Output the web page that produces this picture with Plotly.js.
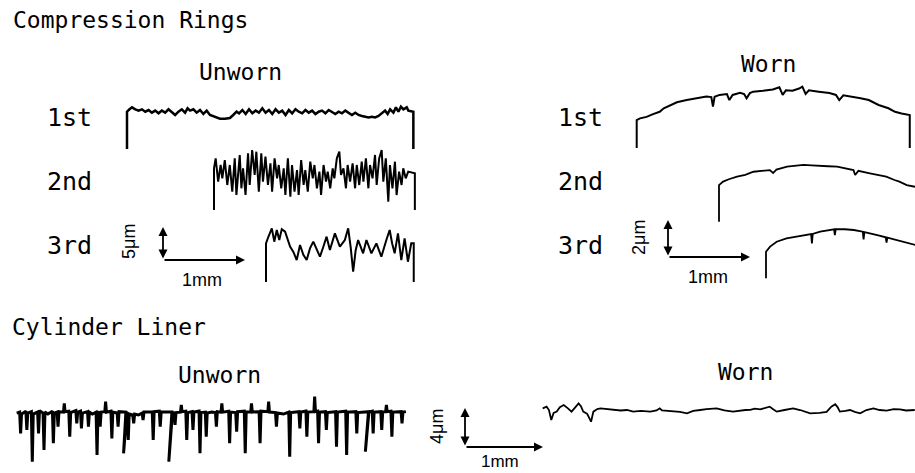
<!DOCTYPE html>
<html><head><meta charset="utf-8">
<script src="https://cdn.plot.ly/plotly-3.0.1.min.js"></script>
<style>html,body{margin:0;padding:0;background:#fff}#chart{width:915px;height:473px}</style>
</head><body><div id="chart"></div>
<script>
// ---- Profile data: [distance along surface (mm), height (µm)] ----
const ringUnworn1st = [[0,0],[0,5.33],[0.03,5.67],[0.06,5.95],[0.10,5.67],[0.14,5.48],[0.18,5.67],[0.22,5.33],[0.26,5.57],[0.30,5.19],[0.34,5.48],[0.38,5.10],[0.42,5.48],[0.46,5.19],[0.50,5.67],[0.54,5.33],[0.58,4.86],[0.62,5.33],[0.66,5.67],[0.70,5.19],[0.73,5.81],[0.76,5.48],[0.80,5.67],[0.84,5.19],[0.88,5.57],[0.92,5.00],[0.96,5.48],[1.00,4.86],[1.06,4.62],[1.12,4.33],[1.18,4.33],[1.24,4.43],[1.28,4.86],[1.32,5.33],[1.35,5.10],[1.39,5.57],[1.43,5.00],[1.47,5.67],[1.51,5.10],[1.55,5.48],[1.59,5.19],[1.63,5.81],[1.67,5.19],[1.71,5.57],[1.75,5.00],[1.79,5.67],[1.83,5.19],[1.87,5.48],[1.91,4.86],[1.95,5.57],[1.99,5.10],[2.03,5.67],[2.07,5.33],[2.11,5.10],[2.15,5.57],[2.19,5.19],[2.23,5.48],[2.27,5.00],[2.31,5.33],[2.35,5.48],[2.39,5.10],[2.43,5.57],[2.47,5.29],[2.51,5.00],[2.55,5.33],[2.59,5.10],[2.63,5.48],[2.67,5.19],[2.71,4.86],[2.75,5.19],[2.79,4.86],[2.83,4.71],[2.87,4.62],[2.91,4.52],[2.95,4.62],[2.99,4.52],[3.03,4.71],[3.07,5.10],[3.11,5.48],[3.14,5.00],[3.17,5.67],[3.21,5.19],[3.24,5.95],[3.27,5.33],[3.30,6.05],[3.33,5.67],[3.37,5.95],[3.39,5.48],[3.43,5.33],[3.45,5.33],[3.45,0]];

const ringUnworn2nd = [[0,0],[0,5.95],[0.02,7.38],[0.05,4.05],[0.08,6.43],[0.10,4.52],[0.13,7.14],[0.16,3.57],[0.19,6.43],[0.22,2.62],[0.25,7.38],[0.27,2.14],[0.31,7.86],[0.33,3.10],[0.35,5.95],[0.38,2.14],[0.41,8.10],[0.43,3.57],[0.46,8.57],[0.49,5.00],[0.51,8.33],[0.54,2.62],[0.57,8.10],[0.59,4.05],[0.62,7.62],[0.65,3.57],[0.68,6.67],[0.70,2.62],[0.73,7.38],[0.76,4.52],[0.78,6.43],[0.81,3.10],[0.84,5.95],[0.86,2.14],[0.89,7.38],[0.92,1.90],[0.94,6.43],[0.97,2.62],[1.00,5.71],[1.02,2.14],[1.05,7.14],[1.08,3.57],[1.10,5.71],[1.13,2.62],[1.16,6.90],[1.19,4.52],[1.21,6.43],[1.24,3.10],[1.27,5.48],[1.29,2.14],[1.32,6.43],[1.35,4.05],[1.37,5.48],[1.40,3.10],[1.43,5.95],[1.45,4.52],[1.48,7.38],[1.51,8.33],[1.53,5.00],[1.56,5.95],[1.59,3.10],[1.61,6.43],[1.64,4.05],[1.67,6.67],[1.70,3.10],[1.72,6.43],[1.75,3.57],[1.78,6.90],[1.80,4.05],[1.83,7.38],[1.86,3.10],[1.88,6.43],[1.91,4.52],[1.94,7.86],[1.96,3.57],[1.99,7.38],[2.02,8.57],[2.04,4.05],[2.07,7.38],[2.10,1.19],[2.12,6.43],[2.15,3.10],[2.18,6.90],[2.20,2.14],[2.23,5.48],[2.26,3.57],[2.28,5.95],[2.31,4.52],[2.34,5.48],[2.37,5.38],[2.40,5.24],[2.42,5.24],[2.42,0]];

const ringUnworn3rd = [[0,0],[0,5.52],[0.03,6.50],[0.07,7.67],[0.10,5.76],[0.13,7.43],[0.16,6.00],[0.19,7.55],[0.23,7.19],[0.29,5.05],[0.33,4.30],[0.37,3.14],[0.41,5.29],[0.45,3.90],[0.49,3.14],[0.53,4.80],[0.57,5.76],[0.61,4.60],[0.65,3.62],[0.69,5.00],[0.73,6.48],[0.77,4.57],[0.83,6.95],[0.89,5.05],[0.95,6.00],[0.99,7.67],[1.02,5.00],[1.05,1.48],[1.08,4.50],[1.11,6.00],[1.17,4.10],[1.21,6.00],[1.27,4.10],[1.33,5.52],[1.39,3.62],[1.45,6.00],[1.49,7.43],[1.52,5.50],[1.55,4.10],[1.59,6.95],[1.63,3.14],[1.67,6.24],[1.71,2.90],[1.75,5.52],[1.78,5.52],[1.78,0]];

const ringWorn1st = [[0,0],[0,1.53],[0.04,1.62],[0.12,1.70],[0.20,1.85],[0.28,1.98],[0.33,2.17],[0.41,2.35],[0.49,2.50],[0.61,2.62],[0.73,2.72],[0.85,2.81],[0.91,2.78],[0.93,2.26],[0.95,2.80],[1.01,2.90],[1.10,2.95],[1.13,2.62],[1.17,2.90],[1.26,3.02],[1.31,2.95],[1.34,2.72],[1.38,3.00],[1.42,3.08],[1.54,3.13],[1.66,3.20],[1.74,3.32],[1.78,2.90],[1.82,3.15],[1.90,3.13],[1.98,3.25],[2.02,3.35],[2.06,2.95],[2.10,3.15],[2.22,3.08],[2.35,3.00],[2.43,2.90],[2.47,2.62],[2.52,2.88],[2.63,2.81],[2.73,2.72],[2.83,2.62],[2.95,2.35],[3.07,2.17],[3.15,1.98],[3.23,1.89],[3.31,1.80],[3.33,1.80],[3.33,0]];

const ringWorn2nd = [[0,0],[0,2.00],[0.05,2.19],[0.12,2.32],[0.22,2.46],[0.32,2.56],[0.42,2.73],[0.52,2.76],[0.62,2.82],[0.66,2.66],[0.70,2.85],[0.83,3.01],[0.93,3.05],[1.03,3.10],[1.13,3.08],[1.23,3.04],[1.33,3.03],[1.44,3.01],[1.54,2.90],[1.64,2.82],[1.66,2.55],[1.70,2.78],[1.84,2.64],[1.94,2.55],[2.04,2.46],[2.14,2.28],[2.20,2.19],[2.29,2.00],[2.39,1.91]];

const ringWorn3rd = [[0,0],[0,1.45],[0.05,1.73],[0.13,2.00],[0.25,2.18],[0.36,2.28],[0.46,2.36],[0.55,2.42],[0.56,1.91],[0.57,2.42],[0.66,2.55],[0.76,2.62],[0.83,2.68],[0.84,2.36],[0.85,2.68],[0.96,2.68],[1.07,2.64],[1.18,2.55],[1.19,2.13],[1.20,2.52],[1.27,2.46],[1.37,2.35],[1.46,2.24],[1.47,1.95],[1.48,2.22],[1.57,2.12],[1.67,2.00],[1.75,1.90],[1.82,1.82]];

const linerUnworn = [[0,0.2],
[0.038,0.3],[0.05,-1.91],[0.062,0.1],[0.118,0.4],[0.13,-1.56],[0.142,0.2],[0.188,0.35],[0.20,-4.86],[0.212,0.1],
[0.268,0.3],[0.28,-1.91],[0.292,0.45],[0.338,0.2],[0.35,-3.65],[0.362,0.3],[0.40,0.1],[0.458,0.4],[0.47,-2.95],[0.482,0.2],
[0.518,0.3],[0.53,-1.22],[0.542,0.35],[0.60,0.3],[0.61,1.22],[0.62,0.35],[0.668,0.4],[0.68,-2.26],[0.692,0.25],
[0.758,0.45],[0.77,-0.87],[0.782,0.3],[0.818,0.4],[0.83,-1.39],[0.842,0.2],[0.908,0.35],[0.92,-1.22],[0.932,0.3],[0.97,0.1],
[1.018,0.3],[1.03,-4.17],[1.042,0.2],[1.058,0.35],[1.07,-1.22],[1.082,0.3],[1.13,0.35],[1.14,1.39],[1.15,0.3],
[1.208,0.4],[1.22,-2.43],[1.232,0.3],[1.288,0.2],[1.30,-1.22],[1.312,0.35],[1.40,0.3],[1.37,-3.99],[1.41,0.2],
[1.418,0.3],[1.43,-2.6],[1.442,0.1],[1.488,0.0],[1.50,-0.87],[1.512,0.1],[1.56,0.0],[1.608,0.2],[1.62,-0.52],[1.632,0.3],
[1.738,0.3],[1.75,-2.6],[1.762,0.35],[1.828,0.4],[1.84,-1.22],[1.852,0.3],[1.99,0.3],[1.95,-4.86],[1.995,0.1],
[2.018,0.3],[2.03,-1.04],[2.042,0.25],[2.10,0.3],[2.11,1.04],[2.12,0.35],[2.168,0.4],[2.18,-2.6],[2.192,0.25],
[2.248,0.35],[2.26,-1.56],[2.272,0.3],[2.338,0.4],[2.35,-3.99],[2.362,0.25],[2.418,0.3],[2.43,-2.26],[2.442,0.2],[2.50,0.3],
[2.548,0.25],[2.56,-1.22],[2.572,0.35],[2.62,0.3],[2.63,1.22],[2.64,0.3],[2.718,0.4],[2.73,-2.95],[2.742,0.3],
[2.808,0.25],[2.82,-1.74],[2.832,0.35],[2.918,0.4],[2.93,-3.99],[2.942,0.3],[3.00,0.3],[3.01,1.22],[3.02,0.3],
[3.108,0.35],[3.12,-2.95],[3.132,0.4],[3.22,0.35],[3.23,1.39],[3.24,0.3],[3.318,0.25],[3.33,-1.22],[3.342,0.2],[3.42,0.1],
[3.488,0.3],[3.50,-4.34],[3.512,0.25],[3.618,0.35],[3.63,-1.39],[3.642,0.3],[3.708,0.4],[3.72,-2.26],[3.732,0.3],
[3.81,0.35],[3.82,1.91],[3.83,0.35],[3.858,0.4],[3.87,-2.95],[3.882,0.3],[3.958,0.35],[3.97,-1.56],[3.982,0.25],
[4.088,0.35],[4.10,-3.3],[4.112,0.3],[4.218,0.4],[4.23,-4.17],[4.242,0.3],[4.348,0.35],[4.36,-1.91],[4.372,0.25],
[4.51,0.35],[4.47,-3.82],[4.515,0.3],[4.558,0.4],[4.57,-1.91],[4.582,0.3],[4.668,0.35],[4.68,-1.56],[4.692,0.3],
[4.73,0.35],[4.74,1.04],[4.75,0.35],[4.798,0.4],[4.81,-2.26],[4.822,0.3],[4.928,0.35],[4.94,-0.87],[4.952,0.3],[4.99,0.35]];

const linerWorn = [[0,0.17],[0.05,0.35],[0.08,0.0],[0.11,-1.04],[0.14,-0.3],[0.18,-0.17],[0.22,0.3],[0.27,0.52],[0.32,0.2],[0.37,-0.17],[0.42,0.3],[0.46,0.69],[0.49,0.4],[0.52,-0.17],[0.57,-0.4],[0.62,-1.22],[0.65,-0.17],[0.70,0.1],[0.74,0.17],[0.82,0.1],[0.91,0.07],[1.0,-0.05],[1.08,0.0],[1.16,-0.17],[1.26,-0.1],[1.38,-0.17],[1.46,-0.05],[1.50,0.17],[1.53,-0.05],[1.60,-0.1],[1.68,-0.17],[1.76,-0.2],[1.85,-0.35],[1.93,-0.1],[2.02,0.0],[2.10,0.1],[2.23,0.17],[2.33,-0.05],[2.44,-0.17],[2.53,-0.05],[2.60,0.0],[2.66,0.02],[2.72,0.15],[2.79,0.07],[2.85,0.25],[2.91,0.35],[2.95,0.1],[3.0,-0.17],[3.1,0.0],[3.21,0.17],[3.30,0.0],[3.38,-0.25],[3.43,-0.35],[3.55,-0.3],[3.64,-0.2],[3.70,0.35],[3.75,0.6],[3.78,0.3],[3.81,-0.17],[3.88,-0.1],[3.94,0.0],[4.0,-0.2],[4.07,-0.35],[4.15,0.0],[4.24,0.17],[4.32,0.0],[4.41,-0.07],[4.5,0.1],[4.58,0.07],[4.66,-0.05],[4.72,0.0],[4.77,0.0]];

// ---- Text labels ----
const sectionTitles = ["Compression Rings", "Cylinder Liner"];
const conditionLabels = ["Unworn", "Worn"];
const ringLabels = ["1st", "2nd", "3rd"];
const scaleLabels = ["5μm", "2μm", "4μm", "1mm"];

// ---- Layout (pixel placement of each profile panel) ----
const W = 915, H = 473;
const panels = [
  {data: ringUnworn1st, ox: 127,   base: 149,   pxMm: 83, pxUm: 7,    box: [118, 422, 95, 156],  lw: 2.5},
  {data: ringUnworn2nd, ox: 214,   base: 210,   pxMm: 83, pxUm: 7,    box: [205, 422, 145, 216], lw: 2.0},
  {data: ringUnworn3rd, ox: 266,   base: 282,   pxMm: 83, pxUm: 7,    box: [258, 422, 220, 288], lw: 2.0},
  {data: ringWorn1st,   ox: 636.7, base: 148,   pxMm: 82, pxUm: 18.3, box: [628, 915, 78, 152],  lw: 2.0},
  {data: ringWorn2nd,   ox: 719,   base: 221.7, pxMm: 82, pxUm: 18.3, box: [712, 915, 158, 226], lw: 1.8},
  {data: ringWorn3rd,   ox: 766,   base: 278.3, pxMm: 82, pxUm: 18.3, box: [758, 915, 225, 284], lw: 1.8},
  {data: linerUnworn,   ox: 16.7,  base: 415,   pxMm: 78, pxUm: 9.6,  box: [8, 414, 390, 470],   lw: 3.0},
  {data: linerWorn,     ox: 542.7, base: 410,   pxMm: 78, pxUm: 9.6,  box: [536, 915, 395, 430], lw: 1.8}
];

const traces = [];
const layout = {
  width: W, height: H, margin: {l: 0, r: 0, t: 0, b: 0},
  paper_bgcolor: '#fff', plot_bgcolor: 'rgba(0,0,0,0)',
  showlegend: false, annotations: []
};

panels.forEach((p, i) => {
  const k = i === 0 ? '' : String(i + 1);
  traces.push({
    type: 'scatter', mode: 'lines',
    x: p.data.map(d => d[0]), y: p.data.map(d => d[1]),
    xaxis: 'x' + k, yaxis: 'y' + k,
    line: {color: '#000', width: p.lw},
    hoverinfo: 'skip'
  });
  layout['xaxis' + k] = {
    domain: [p.box[0] / W, p.box[1] / W],
    range: [(p.box[0] - p.ox) / p.pxMm, (p.box[1] - p.ox) / p.pxMm],
    visible: false, fixedrange: true, anchor: 'y' + k
  };
  layout['yaxis' + k] = {
    domain: [1 - p.box[3] / H, 1 - p.box[2] / H],
    range: [(p.base - p.box[3]) / p.pxUm, (p.base - p.box[2]) / p.pxUm],
    visible: false, fixedrange: true, anchor: 'x' + k
  };
});

const monoFont = (s) => ({family: 'DejaVu Sans Mono, monospace', size: s, color: '#000'});
const sansFont = (s) => ({family: 'Liberation Sans, Arial, sans-serif', size: s, color: '#000'});

function label(text, px, py, font, anchor, angle) {
  layout.annotations.push({
    text: text, x: px / W, y: 1 - py / H, xref: 'paper', yref: 'paper',
    xanchor: anchor || 'center', yanchor: 'middle', showarrow: false,
    font: font, textangle: angle || 0
  });
}
function arrow(hx, hy, ax, ay, side) {
  layout.annotations.push({
    text: '', x: hx / W, y: 1 - hy / H, xref: 'paper', yref: 'paper',
    ax: ax, ay: ay, showarrow: true, arrowhead: 2, arrowsize: 1,
    arrowwidth: 1.8, arrowcolor: '#000', arrowside: side || 'end',
    standoff: 0, startstandoff: 0
  });
}

// titles & labels
label(sectionTitles[0], 11, 20, monoFont(23), 'left');
label(sectionTitles[1], 10, 327, monoFont(23), 'left');
label(conditionLabels[0], 241, 72, monoFont(23));
label(conditionLabels[1], 768, 64, monoFont(23));
label(conditionLabels[0], 219, 375, monoFont(23));
label(conditionLabels[1], 745, 372, monoFont(23));
[117, 181, 245].forEach((py, j) => {
  label(ringLabels[j], 69, py, monoFont(25));
  label(ringLabels[j], 580, py, monoFont(25));
});

// scale bars
label(scaleLabels[0], 129, 242, sansFont(18), 'center', -90);
label(scaleLabels[3], 202, 280, sansFont(18));
arrow(163, 227, 0, 33, 'end+start');
arrow(245, 260, -82, 0, 'end');

label(scaleLabels[1], 639, 238, sansFont(18), 'center', -90);
label(scaleLabels[3], 708, 277, sansFont(18));
arrow(668, 220, 0, 37, 'end+start');
arrow(750, 257, -82, 0, 'end');

label(scaleLabels[2], 437, 427, sansFont(18), 'center', -90);
label(scaleLabels[3], 500, 461, sansFont(17));
arrow(465, 408, 0, 39, 'end+start');
arrow(543, 447, -78, 0, 'end');

Plotly.newPlot('chart', traces, layout, {staticPlot: true, displayModeBar: false});
</script>
</body></html>
